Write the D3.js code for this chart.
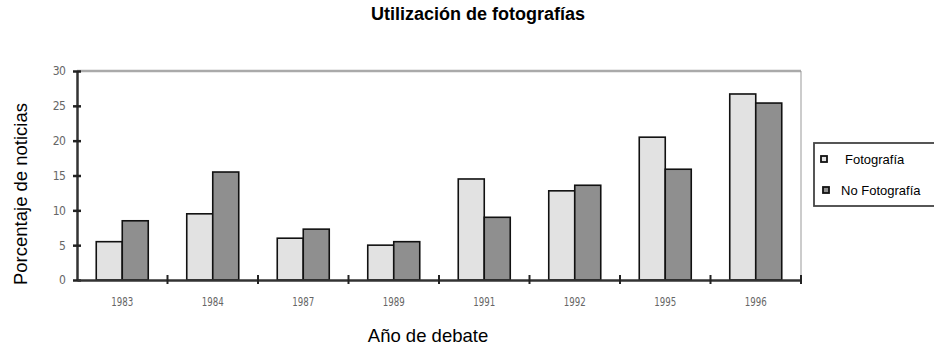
<!DOCTYPE html>
<html>
<head>
<meta charset="utf-8">
<script src="https://cdn.jsdelivr.net/npm/d3@7"></script>
<style>
  html, body { margin: 0; padding: 0; background: #fff; }
  svg { display: block; font-family: "Liberation Sans", Arial, sans-serif; }
</style>
</head>
<body>
<svg id="chart" width="934" height="347"></svg>
<script>
// Años de debate y porcentaje de noticias con / sin fotografía
const years = ["1983", "1984", "1987", "1989", "1991", "1992", "1995", "1996"];
const fotografia = [5.5, 9.5, 6.0, 5.0, 14.5, 12.8, 20.5, 26.7];
const noFotografia = [8.5, 15.5, 7.3, 5.5, 9.0, 13.6, 15.9, 25.4];
const seriesNames = ["Fotografía", "No Fotografía"];
const seriesColors = ["#e2e2e2", "#8f8f8f"];
const yTicks = [0, 5, 10, 15, 20, 25, 30];

const svg = d3.select("#chart");
const plot = { left: 77, right: 801, top: 71, bottom: 280 };

const x = d3.scaleBand().domain(years).range([plot.left, plot.right]).padding(0);
const x1 = d3.scaleBand().domain(seriesNames).range([0, 52]);
const y = d3.scaleLinear().domain([0, 30]).range([plot.bottom, plot.top]);

// Marco del área de trazado
svg.append("line")
  .attr("x1", plot.left).attr("x2", plot.right)
  .attr("y1", plot.top).attr("y2", plot.top)
  .attr("stroke", "#aaa").attr("stroke-width", 2.5);
svg.append("line")
  .attr("x1", plot.right).attr("x2", plot.right)
  .attr("y1", plot.top).attr("y2", plot.bottom)
  .attr("stroke", "#999").attr("stroke-width", 1);

// Barras
const rows = years.map((yr, i) => ({ year: yr, values: [fotografia[i], noFotografia[i]] }));
const groups = svg.append("g").selectAll("g").data(rows).join("g")
  .attr("transform", d => `translate(${x(d.year) + x.bandwidth() / 2 - 26},0)`);
groups.selectAll("rect")
  .data(d => d.values.map((v, k) => ({ name: seriesNames[k], value: v, k })))
  .join("rect")
  .attr("x", d => x1(d.name))
  .attr("width", x1.bandwidth())
  .attr("y", d => y(d.value))
  .attr("height", d => y(0) - y(d.value))
  .attr("fill", d => seriesColors[d.k])
  .attr("stroke", "#111")
  .attr("stroke-width", 1.6);

// Eje Y
const yAxis = svg.append("g").attr("transform", `translate(${plot.left},0)`)
  .call(d3.axisLeft(y).tickValues(yTicks).tickSize(0).tickPadding(12));
yAxis.select(".domain").attr("stroke", "#333").attr("stroke-width", 2.5);
yAxis.selectAll(".tick text").attr("font-size", 12).attr("fill", "#666")
  .attr("font-family", "'DejaVu Sans Condensed', sans-serif").attr("letter-spacing", -0.8);
yAxis.selectAll(".tick").append("line")
  .attr("x1", -4).attr("x2", 4).attr("stroke", "#222").attr("stroke-width", 2.5);

// Eje X
const xAxis = svg.append("g").attr("transform", `translate(0,${plot.bottom})`)
  .call(d3.axisBottom(x).tickSize(0).tickPadding(17));
xAxis.select(".domain").attr("stroke", "#333").attr("stroke-width", 2.5);
xAxis.selectAll(".tick text").attr("font-size", 12).attr("fill", "#666")
  .attr("font-family", "'DejaVu Sans Condensed', sans-serif")
  .attr("textLength", 22).attr("lengthAdjust", "spacingAndGlyphs");
xAxis.selectAll(".sep").data(years).join("line").attr("class", "sep")
  .attr("x1", d => x(d) + x.bandwidth()).attr("x2", d => x(d) + x.bandwidth())
  .attr("y1", -5).attr("y2", 4)
  .attr("stroke", "#222").attr("stroke-width", 2);

// Título y rótulos de ejes
svg.append("text").attr("x", 478).attr("y", 20).attr("text-anchor", "middle")
  .attr("font-size", 18).attr("font-weight", "bold").text("Utilización de fotografías");
svg.append("text").attr("transform", "translate(27,194) rotate(-90)")
  .attr("text-anchor", "middle").attr("font-size", 18.5).text("Porcentaje de noticias");
svg.append("text").attr("x", 428).attr("y", 342).attr("text-anchor", "middle")
  .attr("font-size", 18.5).text("Año de debate");

// Leyenda
const legend = svg.append("g");
legend.append("rect").attr("x", 814).attr("y", 143).attr("width", 140).attr("height", 63)
  .attr("fill", "#fff").attr("stroke", "#444").attr("stroke-width", 1.8);
const legendRows = [
  { name: seriesNames[0], color: seriesColors[0], sx: 821, tx: 845, y: 159 },
  { name: seriesNames[1], color: seriesColors[1], sx: 823, tx: 841, y: 190 }
];
legendRows.forEach(r => {
  legend.append("rect").attr("x", r.sx).attr("y", r.y - 3).attr("width", 6).attr("height", 6)
    .attr("fill", r.color).attr("stroke", "#111").attr("stroke-width", 1.8);
  legend.append("text").attr("x", r.tx).attr("y", r.y + 5)
    .attr("font-size", 13).text(r.name);
});
</script>
</body>
</html>
